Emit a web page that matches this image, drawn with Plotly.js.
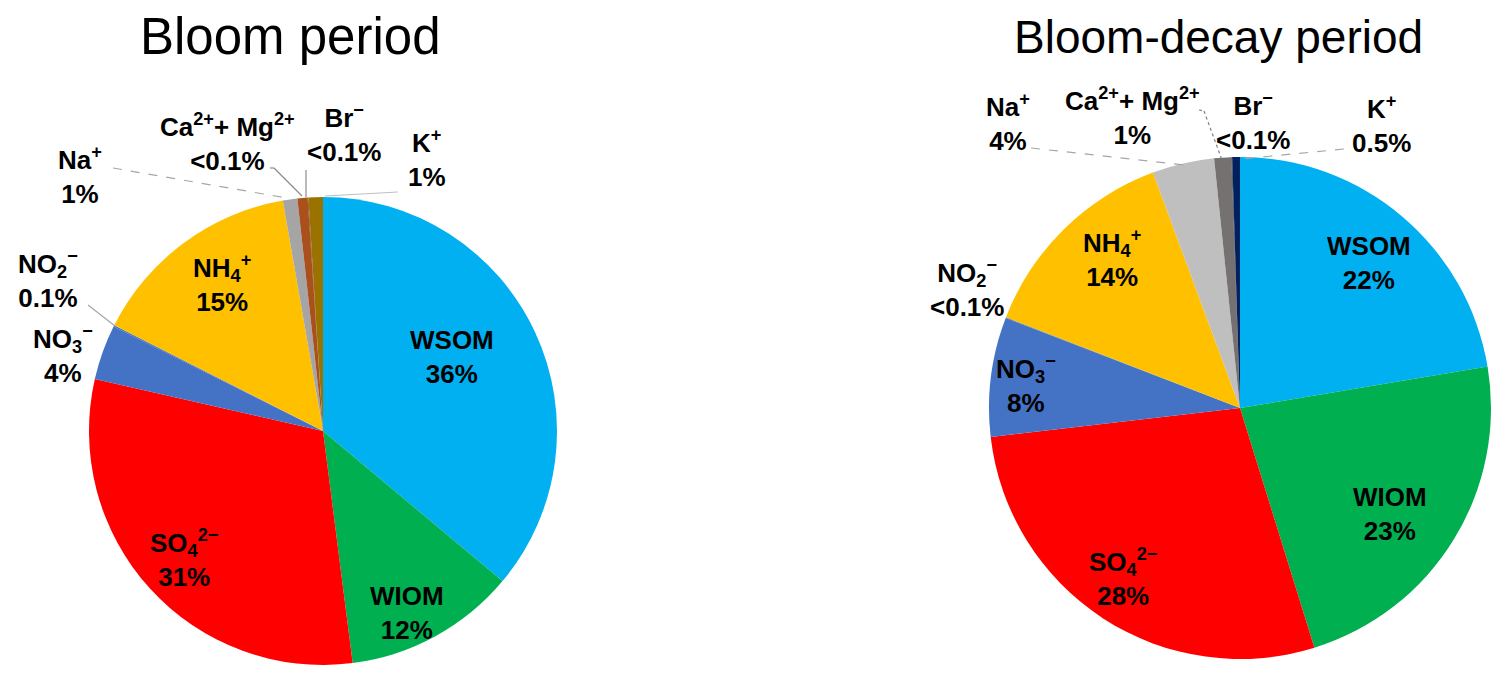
<!DOCTYPE html>
<html>
<head>
<meta charset="utf-8">
<script src="https://cdn.plot.ly/plotly-3.0.1.min.js"></script>
<style>html,body{margin:0;padding:0;background:#fff;}#chart{width:1512px;height:682px;}</style>
</head>
<body>
<div id="chart"></div>
<script>
// ---- data ----
const categories = ['WSOM','WIOM','SO4','NO3','NO2','NH4','Na','CaMg','Br','K'];
const categoryLabels = ['WSOM','WIOM','SO<sub>4</sub><sup>2\u2212</sup>','NO<sub>3</sub><sup>\u2212</sup>','NO<sub>2</sub><sup>\u2212</sup>','NH<sub>4</sub><sup>+</sup>','Na<sup>+</sup>','Ca<sup>2+</sup>+ Mg<sup>2+</sup>','Br<sup>\u2212</sup>','K<sup>+</sup>'];
const bloomValues = [36.1, 11.9, 30.6, 3.8, 0.1, 14.8, 1.0, 0.7, 0.05, 1.0];
const bloomText   = ['36%','12%','31%','4%','0.1%','15%','1%','<0.1%','<0.1%','1%'];
const decayValues = [22.4, 22.9, 28.0, 7.7, 0.05, 13.5, 4.0, 1.1, 0.05, 0.5];
const decayText   = ['22%','23%','28%','8%','<0.1%','14%','4%','1%','<0.1%','0.5%'];
const titles = ['Bloom period','Bloom-decay period'];

// ---- styles ----
const bloomColors = ['#00B0F0','#00B050','#FF0000','#4472C4','#4472C4','#FFC000','#A5A5A5','#A9501C','#843C0C','#9A7200'];
const decayColors = ['#00B0F0','#00B050','#FF0000','#4472C4','#4472C4','#FFC000','#BFBFBF','#767171','#3A3838','#002060'];
const W = 1512, H = 682;
const px = x => x / W, py = y => 1 - y / H;

// label block centres (pixels)
const bloomLabelPos = [[452,357],[407,613],[184,558],[63,354],[48,279],[222,283],[80,175],[227,142],[344,133],[427,158]];
const decayLabelPos = [[1369,263],[1390,514],[1123,577],[1026,384],[967,288],[1112,258],[1008,122],[1132,117],[1253,121],[1381,124]];

const font = 'Liberation Sans, Arial, sans-serif';

function pieTrace(values, colors, dom) {
  return {
    type: 'pie', values: values, labels: categories, sort: false,
    direction: 'clockwise', rotation: 0, textinfo: 'none', hoverinfo: 'skip',
    marker: {colors: colors, line: {width: 0}},
    domain: dom, showlegend: false
  };
}

const data = [
  pieTrace(bloomValues, bloomColors, {x: [px(89), px(557)], y: [py(665), py(197)]}),
  pieTrace(decayValues, decayColors, {x: [px(989), px(1491)], y: [py(659), py(157)]})
];

const annotations = [];
function addLabels(texts, pos) {
  categories.forEach((c, i) => {
    annotations.push({
      xref: 'paper', yref: 'paper', x: px(pos[i][0]), y: py(pos[i][1]),
      xanchor: 'center', yanchor: 'middle', showarrow: false, align: 'center',
      text: '<b>' + categoryLabels[i] + '<br>' + texts[i] + '</b>',
      font: {family: font, size: 26, color: '#000'}
    });
  });
}
addLabels(bloomText, bloomLabelPos);
addLabels(decayText, decayLabelPos);

const titlePos = [[290, 37], [1218, 37]];
const titleSizes = [51, 46];
titles.forEach((t, i) => annotations.push({
  xref: 'paper', yref: 'paper', x: px(titlePos[i][0]), y: py(titlePos[i][1]),
  xanchor: 'center', yanchor: 'middle', showarrow: false, text: t,
  font: {family: font, size: titleSizes[i], color: '#000'}
}));

function seg(pts, color, dash) {
  const s = [];
  for (let i = 0; i < pts.length - 1; i++) {
    s.push({type: 'line', xref: 'paper', yref: 'paper',
      x0: px(pts[i][0]), y0: py(pts[i][1]), x1: px(pts[i+1][0]), y1: py(pts[i+1][1]),
      line: {color: color, width: 1.2, dash: dash}});
  }
  return s;
}
const shapes = [].concat(
  seg([[88,305],[115,326]], '#A6A6A6', 'solid'),
  seg([[113,168],[287,198]], '#A6A6A6', 'dash'),
  seg([[270,168],[274,168],[302,196]], '#8C8C8C', 'solid'),
  seg([[306,170],[306,197]], '#8C8C8C', 'solid'),
  seg([[398,192],[325,196]], '#BFBFBF', 'solid'),
  seg([[1031,148],[1185,165]], '#A6A6A6', 'dash'),
  seg([[1199,110],[1204,111],[1222,160]], '#7F7F7F', 'dot'),
  seg([[1344,149],[1241,159]], '#A6A6A6', 'dash')
);

const layout = {
  width: W, height: H, margin: {l: 0, r: 0, t: 0, b: 0},
  paper_bgcolor: '#fff', plot_bgcolor: '#fff', showlegend: false,
  annotations: annotations, shapes: shapes
};
Plotly.newPlot('chart', data, layout, {displayModeBar: false, staticPlot: true});
</script>
</body>
</html>
